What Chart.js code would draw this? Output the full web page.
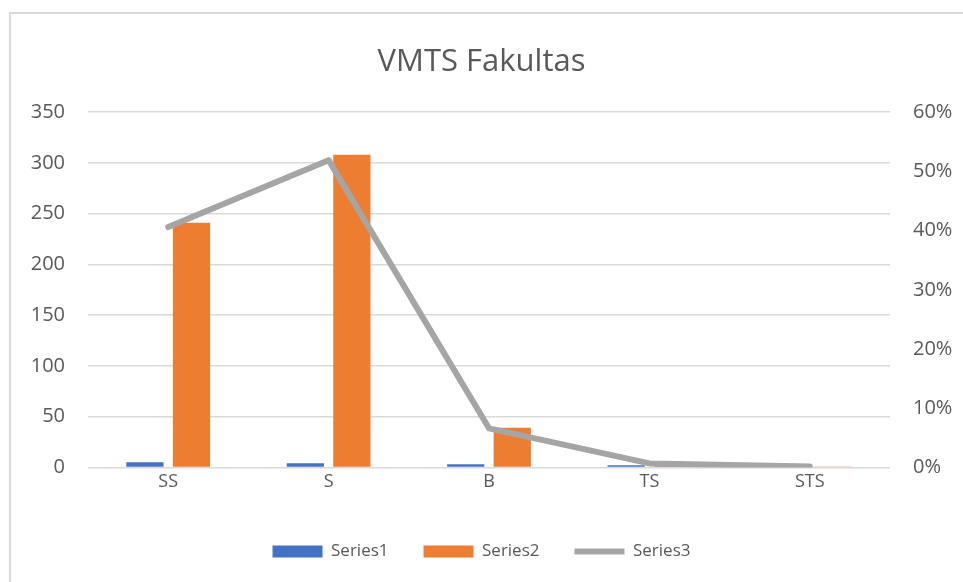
<!DOCTYPE html>
<html>
<head>
<meta charset="utf-8">
<script src="https://cdn.jsdelivr.net/npm/chart.js@4"></script>
<style>
  html, body { margin: 0; padding: 0; background: #fff; overflow: hidden; }
  #wrap { position: relative; width: 963px; height: 582px; overflow: hidden; }
  #frame { position: absolute; left: 9px; top: 12px; width: 1000px; height: 600px; border-top: 2px solid #D9D9D9; border-left: 2px solid #D9D9D9; }
  canvas { position: absolute; left: 0; top: 0; }
</style>
</head>
<body>
<div id="wrap">
  <div id="frame"></div>
  <canvas id="myChart" width="963" height="582"></canvas>
</div>
<script>
var categories = ["SS", "S", "B", "TS", "STS"];
var series1 = [5, 4, 3, 2, 1];
var series2 = [241, 308, 39, 4, 1];
var series3 = [0.406, 0.519, 0.066, 0.0067, 0.0017];
var leftTicks = [0, 50, 100, 150, 200, 250, 300, 350];
var rightTicks = [0, 0.1, 0.2, 0.3, 0.4, 0.5, 0.6];

var textColor = "#595959";
var gridColor = "#D9D9D9";
Chart.defaults.font.family = "'Open Sans', sans-serif";
Chart.defaults.color = textColor;

new Chart("myChart", {
  data: {
    labels: categories,
    datasets: [
      {
        type: "bar",
        label: "Series1",
        data: series1,
        backgroundColor: "#4472C4",
        pointStyle: "rect",
        yAxisID: "y",
        order: 2,
        categoryPercentage: 0.58,
        barPercentage: 0.8
      },
      {
        type: "bar",
        label: "Series2",
        data: series2,
        backgroundColor: "#ED7D31",
        pointStyle: "rect",
        yAxisID: "y",
        order: 2,
        categoryPercentage: 0.58,
        barPercentage: 0.8
      },
      {
        type: "line",
        label: "Series3",
        data: series3,
        borderColor: "#A5A5A5",
        backgroundColor: "#A5A5A5",
        borderWidth: 6,
        borderCapStyle: "round",
        borderJoinStyle: "round",
        pointRadius: 0,
        pointStyle: "line",
        tension: 0,
        yAxisID: "y1",
        order: 1
      }
    ]
  },
  options: {
    responsive: false,
    animation: false,
    layout: { padding: { left: 0, right: 0, top: 44, bottom: 12 } },
    plugins: {
      title: {
        display: true,
        text: "VMTS Fakultas",
        color: textColor,
        font: { size: 31, weight: "normal" },
        padding: { top: 0, bottom: 31 }
      },
      legend: {
        position: "bottom",
        labels: {
          usePointStyle: true,
          pointStyleWidth: 50,
          boxWidth: 50,
          boxHeight: 12,
          padding: 35,
          color: textColor,
          font: { size: 17 },
          sort: function (a, b) { return a.datasetIndex - b.datasetIndex; }
        }
      },
      tooltip: { enabled: false }
    },
    scales: {
      x: {
        grid: { display: false },
        border: { display: false },
        ticks: { font: { size: 18 }, padding: -4 },
        afterFit: function (axis) { axis.height += 19; }
      },
      y: {
        position: "left",
        min: 0,
        max: 350,
        afterBuildTicks: function (axis) { axis.ticks = leftTicks.map(function (v) { return { value: v }; }); },
        afterFit: function (axis) { axis.width = 88; },
        grid: { color: gridColor, lineWidth: 1.5, drawTicks: false },
        border: { display: false },
        ticks: { font: { size: 20 }, padding: 23 }
      },
      y1: {
        position: "right",
        min: 0,
        max: 0.6,
        afterBuildTicks: function (axis) { axis.ticks = rightTicks.map(function (v) { return { value: v }; }); },
        afterFit: function (axis) { axis.width = 73; },
        grid: { display: false, drawTicks: false },
        border: { display: false },
        ticks: {
          font: { size: 20 },
          padding: 23,
          callback: function (v) { return Math.round(v * 100) + "%"; }
        }
      }
    }
  }
});
</script>
</body>
</html>
